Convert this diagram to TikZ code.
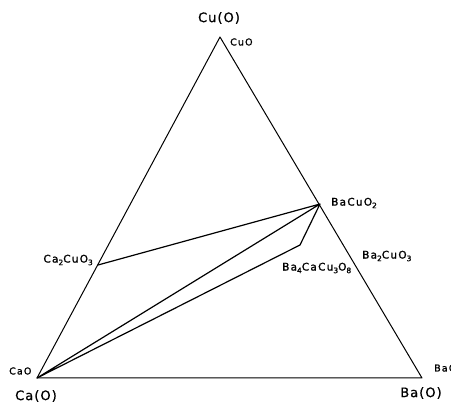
\documentclass[tikz,border=0pt]{standalone}
\usepackage{fontspec}
\setmainfont{DejaVu Sans}[LetterSpace=8,FakeBold=0.8]
\newfontfamily\lblfont{DejaVu Sans}[LetterSpace=12,FakeBold=1.2]
\newcommand{\sbs}[1]{\raisebox{-0.45ex}{\fontsize{7.5}{7.5}\selectfont #1}}
\tikzset{
  edge/.style={line width=1pt, line join=round},
  tie/.style={line width=1.2pt, line join=round},
  big/.style={font=\fontsize{13}{13}\selectfont, inner sep=0pt},
  lbl/.style={font=\lblfont\fontsize{10.5}{11}\selectfont, inner sep=0pt},
  sml/.style={font=\lblfont\fontsize{9.5}{10}\selectfont, inner sep=0pt},
}
\begin{document}
\begin{tikzpicture}[x=1pt,y=-1pt]
\useasboundingbox (0,0) rectangle (451,404);
\coordinate (CaO) at (37,378);
\coordinate (BaO) at (422,378);
\coordinate (CuO) at (220,37);
\coordinate (BaCuO2) at (320,204);
\coordinate (Ca2CuO3) at (98,265);
\coordinate (Ba4) at (300,245);
\draw[edge] (CaO) -- (BaO) -- (CuO) -- cycle;
\draw[tie] (Ca2CuO3) -- (BaCuO2) -- (Ba4) -- (CaO) -- (BaCuO2);
\node[big] (lCu) at (219,18) {Cu(O)};
\node[sml, anchor=west] (lCuO) at (230,42) {CuO};
\node[lbl, anchor=west] (lBaCuO2) at (331,203) {BaCuO\sbs{2}};
\node[lbl, anchor=west] (lBa2) at (362,256) {Ba\sbs{2}CuO\sbs{3}};
\node[lbl, anchor=west] (lBa4) at (282,268) {Ba\sbs{4}CaCu\sbs{3}O\sbs{8}};
\node[lbl, anchor=east] (lCa2) at (93,260) {Ca\sbs{2}CuO\sbs{3}};
\node[sml, anchor=west] (lCaO) at (9,371) {CaO};
\node[big] (lCa) at (36,396) {Ca(O)};
\node[big] (lBa) at (421,393) {Ba(O)};
\node[sml, anchor=west] (lBaO) at (434,368) {BaO};
\end{tikzpicture}
\end{document}
